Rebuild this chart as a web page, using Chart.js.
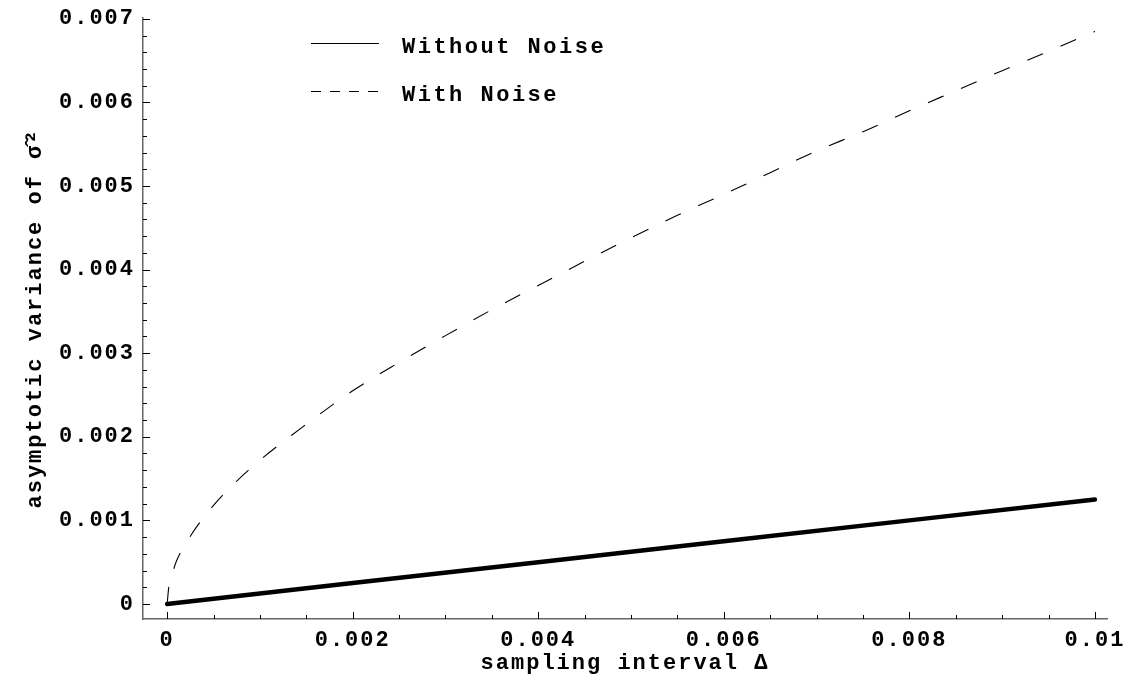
<!DOCTYPE html>
<html>
<head>
<meta charset="utf-8">
<script src="https://cdn.jsdelivr.net/npm/chart.js@4.4.1/dist/chart.umd.min.js"></script>
<style>
  html, body { margin: 0; padding: 0; background: #fff; }
  #wrap { width: 1135px; height: 689px; }
</style>
</head>
<body>
<div id="wrap"><canvas id="varianceChart" width="1135" height="689"></canvas></div>
<script>
// Asymptotic variance vs sampling interval
const seriesNames = ['Without Noise', 'With Noise'];

const deltaNoNoise = [0, 0.002, 0.004, 0.006, 0.008, 0.01];
const varNoNoise = [0, 0.00025, 0.0005, 0.00075, 0.001, 0.00125];

const deltaNoise = [0, 0.00002, 0.00005, 0.0001, 0.00025, 0.0005, 0.00075, 0.001, 0.0015, 0.002,
    0.0025, 0.003, 0.0035, 0.004, 0.0045, 0.005, 0.0055, 0.006, 0.0065, 0.007,
    0.0075, 0.008, 0.0085, 0.009, 0.0095, 0.01];
const varNoise = [0, 0.00022, 0.00034, 0.00051, 0.00081, 0.00118, 0.00147, 0.00172, 0.00215, 0.00255,
    0.00289, 0.00321, 0.00352, 0.00381, 0.0041, 0.00438, 0.00465, 0.0049, 0.00516, 0.00542,
    0.00565, 0.0059, 0.00614, 0.00638, 0.00661, 0.00685];

const xTickValues = [0, 0.002, 0.004, 0.006, 0.008, 0.01];
const xTickLabels = ['0', '0.002', '0.004', '0.006', '0.008', '0.01'];
const yTickValues = [0, 0.001, 0.002, 0.003, 0.004, 0.005, 0.006, 0.007];
const yTickLabels = ['0', '0.001', '0.002', '0.003', '0.004', '0.005', '0.006', '0.007'];

const monoFont = { family: "'Liberation Mono', 'Courier New', monospace", size: 22, weight: 'bold' };
const fontStr = "bold 22px 'Liberation Mono', 'Courier New', monospace";

function pairs(xs, ys) {
    return xs.map((x, i) => ({ x: x, y: ys[i] }));
}

// Courier-like wide spacing for all canvas text
function spaceOut(chart) {
    chart.ctx.letterSpacing = '2px';
}

// Inward frame ticks (major + minor) and the key, drawn through the chart's scales
const frameTicks = {
    id: 'frameTicks',
    beforeUpdate: spaceOut,
    beforeLayout: spaceOut,
    beforeDraw: spaceOut,
    beforeDatasetsDraw(chart) {
        const { ctx, chartArea, scales: { x, y } } = chart;
        ctx.save();
        ctx.strokeStyle = '#000';
        ctx.lineWidth = 1;
        ctx.beginPath();
        for (let i = 0; i <= 20; i++) {
            const px = Math.round(x.getPixelForValue(i * 0.0005)) + 0.5;
            const len = i % 4 === 0 ? 7 : 4;
            ctx.moveTo(px, chartArea.bottom);
            ctx.lineTo(px, chartArea.bottom - len);
        }
        for (let i = 0; i <= 35; i++) {
            const py = Math.round(y.getPixelForValue(i * 0.0002)) + 0.5;
            const len = i % 5 === 0 ? 7 : 4;
            ctx.moveTo(chartArea.left, py);
            ctx.lineTo(chartArea.left + len, py);
        }
        ctx.stroke();
        ctx.restore();
    },
    afterDraw(chart) {
        const ctx = chart.ctx;
        ctx.save();
        ctx.strokeStyle = '#000';
        ctx.lineWidth = 1.2;
        ctx.beginPath();
        ctx.moveTo(311, 43.5);
        ctx.lineTo(379, 43.5);
        ctx.stroke();
        ctx.setLineDash([10, 9]);
        ctx.beginPath();
        ctx.moveTo(311, 91.5);
        ctx.lineTo(379, 91.5);
        ctx.stroke();
        ctx.setLineDash([]);
        ctx.fillStyle = '#000';
        ctx.font = fontStr;
        ctx.letterSpacing = '2.5px';
        ctx.textBaseline = 'alphabetic';
        ctx.fillText(seriesNames[0], 402, 53);
        ctx.fillText(seriesNames[1], 402, 101);
        ctx.restore();
    }
};

const ctx = document.getElementById('varianceChart').getContext('2d');

const varianceChart = new Chart(ctx, {
    type: 'line',
    data: {
        datasets: [
            {
                label: seriesNames[0],
                data: pairs(deltaNoNoise, varNoNoise),
                borderColor: '#000',
                borderWidth: 4.5,
                borderCapStyle: 'round',
                pointRadius: 0,
                tension: 0,
            },
            {
                label: seriesNames[1],
                data: pairs(deltaNoise, varNoise),
                borderColor: '#000',
                borderWidth: 1.1,
                borderDash: [17, 19],
                pointRadius: 0,
                cubicInterpolationMode: 'monotone',
            },
        ],
    },
    options: {
        responsive: false,
        animation: false,
        layout: { padding: { top: 18, right: 28, left: 0, bottom: 0 } },
        plugins: {
            legend: { display: false },
            tooltip: { enabled: false },
        },
        scales: {
            x: {
                type: 'linear',
                min: -0.00026,
                max: 0.01013,
                grid: { display: false, drawTicks: false },
                border: { display: true, color: '#666', width: 1.5 },
                afterBuildTicks: (scale) => {
                    scale.ticks = xTickValues.map((v) => ({ value: v }));
                },
                afterFit: (scale) => {
                    scale.height = 70;
                    scale.paddingLeft = 0;
                    scale.paddingRight = 0;
                },
                ticks: {
                    autoSkip: false,
                    maxRotation: 0,
                    padding: 8,
                    color: '#000',
                    font: monoFont,
                    callback: (value, index) => xTickLabels[index],
                },
                title: {
                    display: true,
                    text: 'sampling interval Δ',
                    color: '#000',
                    font: monoFont,
                    padding: { top: 0, bottom: 12 },
                },
            },
            y: {
                type: 'linear',
                min: -0.00018,
                max: 0.00701,
                grid: { display: false, drawTicks: false },
                border: { display: true, color: '#666', width: 1.5 },
                afterBuildTicks: (scale) => {
                    scale.ticks = yTickValues.map((v) => ({ value: v }));
                },
                afterFit: (scale) => {
                    scale.width = 143;
                    scale.paddingTop = 0;
                    scale.paddingBottom = 0;
                },
                ticks: {
                    autoSkip: false,
                    padding: 8,
                    color: '#000',
                    font: monoFont,
                    callback: (value, index) => yTickLabels[index],
                },
                title: {
                    display: true,
                    text: 'asymptotic variance of σ̂²',
                    color: '#000',
                    font: monoFont,
                    padding: { top: 22, bottom: 0 },
                },
            },
        },
    },
    plugins: [frameTicks],
});
</script>
</body>
</html>
